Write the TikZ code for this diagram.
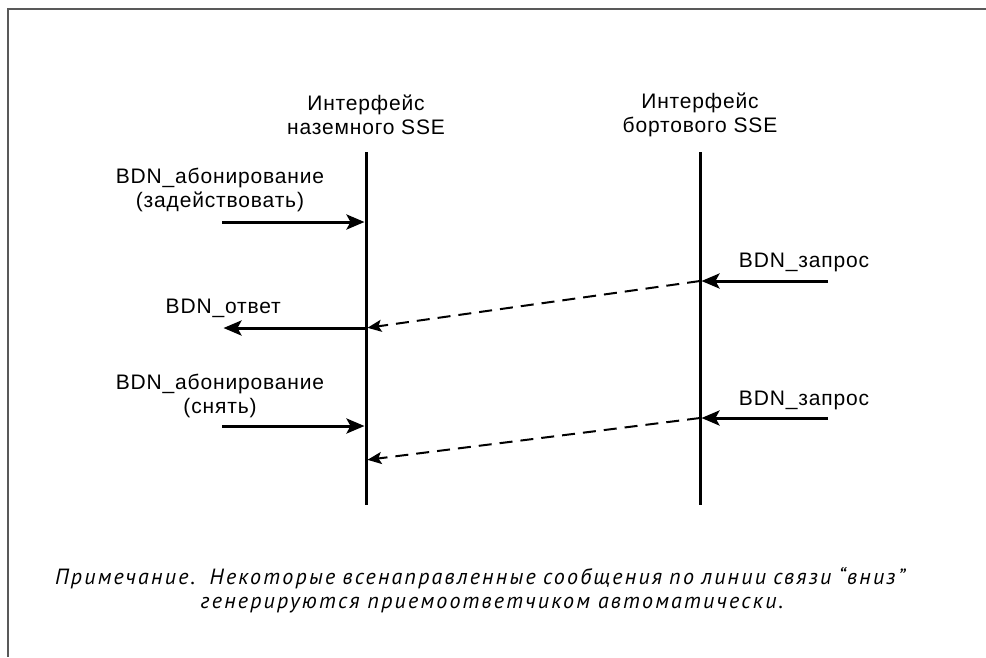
\documentclass[tikz,border=0pt]{standalone}
\usepackage{fontspec}
\setmainfont{Liberation Sans}[LetterSpace=4]
\newfontfamily\notefont{PT Sans}[LetterSpace=10]
\usetikzlibrary{arrows.meta}

\tikzset{
  lbl/.style={font=\fontsize{21}{24}\selectfont,align=center,inner sep=0pt},
  msg/.style={line width=3pt,-{Stealth[length=18pt,width=15pt,inset=4pt]},shorten >=1.5pt},
  resp/.style={line width=2pt,dash pattern=on 13pt off 8pt,
    -{Stealth[length=14pt,width=12pt,inset=3pt]},shorten >=1.5pt},
  life/.style={line width=3pt}
}

\begin{document}
\begin{tikzpicture}[x=1pt,y=-1pt]

\useasboundingbox (0,0) rectangle (986,657);

\newcommand\LX{366}
\newcommand\RX{700}
\newcommand\SX{222}
\newcommand\EX{828}

%% frame
\draw[line width=1.2pt,black!65] (986,9) -- (8,9) -- (8,657);

%% lifelines
\node[lbl] (gndIf) at (\LX,115) {Интерфейс\\наземного SSE};
\node[lbl] (brdIf) at (\RX,115) {Интерфейс\\бортового SSE};

\coordinate (gndTop) at (\LX,152);
\coordinate (gndBot) at (\LX,505);
\coordinate (brdTop) at (\RX,152);
\coordinate (brdBot) at (\RX,505);

\draw[life] (gndTop) -- (gndBot);
\draw[life] (brdTop) -- (brdBot);

%% subscribe on
\node[lbl] (subOn) at (220,190) {BDN\_абонирование\\(задействовать)};
\coordinate (subOnS) at (\SX,222);
\coordinate (subOnE) at (\LX,222);
\draw[msg] (subOnS) -- (subOnE);

%% first request and reply
\node[lbl,anchor=base] (reqA) at (804,267) {BDN\_запрос};
\coordinate (reqAS) at (\EX,281);
\coordinate (reqAE) at (\RX,281);
\draw[msg] (reqAS) -- (reqAE);

\coordinate (repE) at (\LX,328);
\draw[resp] (reqAE) -- (repE);

\node[lbl,anchor=base east] (rep) at (281,313) {BDN\_ответ};
\coordinate (repS) at (\SX,328);
\draw[msg] (repE) -- (repS);

%% subscribe off
\node[lbl] (subOff) at (220,396) {BDN\_абонирование\\(снять)};
\coordinate (subOffS) at (\SX,426);
\coordinate (subOffE) at (\LX,426);
\draw[msg] (subOffS) -- (subOffE);

%% second request
\node[lbl,anchor=base] (reqB) at (804,405) {BDN\_запрос};
\coordinate (reqBS) at (\EX,418);
\coordinate (reqBE) at (\RX,418);
\draw[msg] (reqBS) -- (reqBE);

\coordinate (repBE) at (\LX,460);
\draw[resp] (reqBE) -- (repBE);

%% note, first line stretched to a fixed width
\node[lbl,font=\notefont\itshape\fontsize{22}{24}\selectfont] (note) at (480,590)
  {\makebox[850pt][s]{Примечание.~~Некоторые всенаправленные сообщения по линии связи “вниз”}\\
   \hspace*{24pt}генерируются приемоответчиком автоматически.};

\end{tikzpicture}
\end{document}
